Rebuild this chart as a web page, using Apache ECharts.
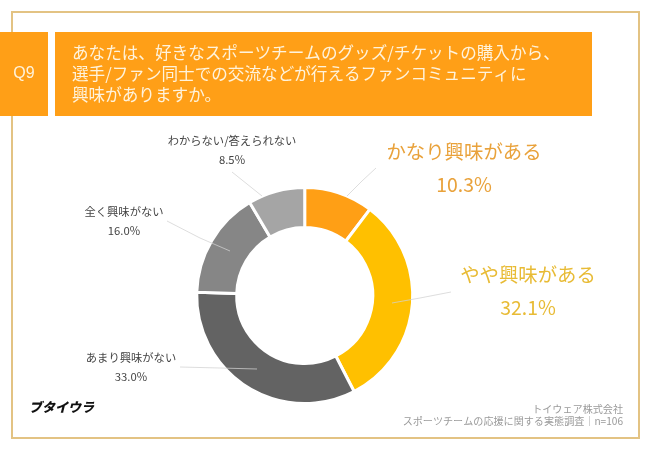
<!DOCTYPE html>
<html>
<head>
<meta charset="utf-8">
<style>
html, body { margin: 0; padding: 0; background: #fff; }
#chart { width: 650px; height: 450px; }
</style>
<script src="https://cdn.jsdelivr.net/npm/echarts@6/dist/echarts.min.js"></script>
</head>
<body>
<div id="chart"></div>
<script>
var categories = ['かなり興味がある', 'やや興味がある', 'あまり興味がない', '全く興味がない', 'わからない/答えられない'];
var values = [10.3, 32.1, 33.0, 16.0, 8.5];
var colors = ['#ff9f15', '#ffc000', '#636363', '#868686', '#a5a5a5'];
var labelColors = ['#e9a23b', '#e8bb35', '#444444', '#444444', '#444444'];
var labelSizes = [19.4, 19.4, 11.3, 11.3, 11.3];
var labelLineHeights = [33, 33, 19, 19, 19];
// label centres and leader lines, in page pixels
var labelCenters = [[464, 168], [528, 291], [131, 367], [124, 221], [232, 150]];
var leaderLines = [
    [[347, 196], [362, 181], [376, 168]],
    [[392, 303], [420, 298], [451, 292]],
    [[257, 369], [220, 368], [180, 367]],
    [[230, 251], [200, 238], [167, 221]],
    [[262, 196], [247, 184], [232, 172]]
];

var questionNo = 'Q9';
var questionLines = 'あなたは、好きなスポーツチームのグッズ/チケットの購入から、\n選手/ファン同士での交流などが行えるファンコミュニティに\n興味がありますか。';
var brand = 'ブタイウラ';
var sourceLines = 'トイウェア株式会社\nスポーツチームの応援に関する実態調査｜n=106';

var fontJP = '"Noto Sans CJK JP", "Noto Sans", sans-serif';

function pieData() {
    return categories.map(function (name, i) {
        return { name: name, value: values[i] };
    });
}

var myChart = echarts.init(document.getElementById('chart'));
myChart.setOption({
    animation: false,
    backgroundColor: '#ffffff',
    graphic: [
        { type: 'rect', z: 0, shape: { x: 12, y: 12, width: 627, height: 426 },
          style: { fill: '#fff', stroke: '#e3c383', lineWidth: 2 } },
        { type: 'rect', z: 1, shape: { x: 0, y: 32, width: 48, height: 84 }, style: { fill: '#ff9f17' } },
        { type: 'rect', z: 1, shape: { x: 55, y: 32, width: 537, height: 84 }, style: { fill: '#ff9f17' } },
        { type: 'text', z: 2, x: 24, y: 74,
          style: { text: questionNo, fill: '#fff3dc', fontFamily: 'Liberation Sans', fontSize: 16, align: 'center', verticalAlign: 'middle' } },
        { type: 'text', z: 2, x: 72, y: 74,
          style: { text: questionLines, fill: '#fff3dc', fontFamily: fontJP, fontSize: 16.6, lineHeight: 21, align: 'left', verticalAlign: 'middle' } },
        { type: 'text', z: 2, x: 29, y: 407,
          style: { text: brand, fill: '#111111', fontFamily: fontJP, fontSize: 13, fontWeight: 900, fontStyle: 'italic', align: 'left', verticalAlign: 'middle' } },
        { type: 'text', z: 2, x: 623, y: 415,
          style: { text: sourceLines, fill: '#9a9a9a', fontFamily: fontJP, fontSize: 10.1, lineHeight: 12.5, align: 'right', verticalAlign: 'middle' } }
    ],
    series: [
        {
            // the ring
            type: 'pie',
            z: 2,
            center: [304.7, 295.5],
            radius: [68, 108],
            startAngle: 90,
            silent: true,
            color: colors,
            itemStyle: { borderColor: '#fff', borderWidth: 3 },
            label: { show: false },
            labelLine: { show: false },
            data: pieData()
        },
        {
            // same data again, no fill: its labels and leader lines sit on top of the ring
            type: 'pie',
            z: 3,
            center: [304.7, 295.5],
            radius: [68, 108],
            startAngle: 90,
            silent: true,
            itemStyle: { color: 'rgba(0,0,0,0)' },
            label: {
                show: true,
                fontFamily: fontJP,
                formatter: function (p) {
                    return p.name + '\n' + p.value.toFixed(1) + '%';
                }
            },
            labelLine: {
                show: true,
                lineStyle: { color: '#d2d2d2', width: 1, opacity: 0.75 }
            },
            labelLayout: function (p) {
                return {
                    x: labelCenters[p.dataIndex][0],
                    y: labelCenters[p.dataIndex][1],
                    align: 'center',
                    verticalAlign: 'middle',
                    labelLinePoints: leaderLines[p.dataIndex]
                };
            },
            data: pieData().map(function (d, i) {
                d.label = { color: labelColors[i], fontSize: labelSizes[i], lineHeight: labelLineHeights[i] };
                return d;
            })
        }
    ]
});
</script>
</body>
</html>
